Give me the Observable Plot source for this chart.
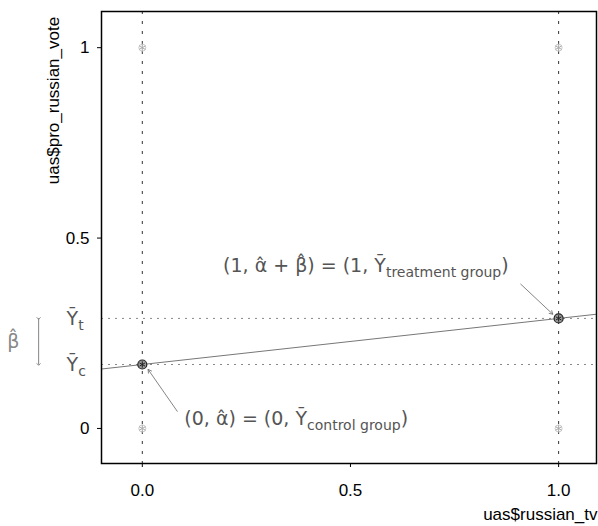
<!DOCTYPE html>
<html>
<head>
<meta charset="utf-8">
<script src="https://cdn.jsdelivr.net/npm/d3@7"></script>
<script src="https://cdn.jsdelivr.net/npm/@observablehq/plot@0.6"></script>
<style>
  html, body { margin: 0; padding: 0; background: white; }
</style>
</head>
<body>
<div id="chart"></div>
<script>
// ---- data ----
const xTicks = [0, 0.5, 1];
const yTicks = [0, 0.5, 1];
const xTickLabels = ["0.0", "0.5", "1.0"];
const yTickLabels = ["0", "0.5", "1"];

// raw observations (binary outcome, binary treatment)
const rawX = [0, 0, 1, 1];
const rawY = [0, 1, 0, 1];

// group means (control, treatment)
const groupX = [0, 1];
const groupMean = [0.168, 0.289];

// axis domains
const xDomain = [-0.098, 1.091];
const yDomain = [-0.092, 1.095];

// annotation texts and their anchors (data units)
const annoText = ["(1, α̂ + β̂) = (1, Ȳ_{treatment group})", "(0, α̂) = (0, Ȳ_{control group})"];
const annoX = [0.194, 0.101];
const annoY = [0.426, 0.024];
// arrows from annotation to point
const arrowX1 = [0.909, 0.084];
const arrowY1 = [0.379, 0.045];
const arrowX2 = [0.986, 0.014];
const arrowY2 = [0.300, 0.155];

// left-hand labels
const sideLabels = ["Ȳ_{t}", "Ȳ_{c}"];
const sideLabelX = -0.182;
const betaX = -0.31;
const braceX = -0.249;

const xLabel = "uas$russian_tv";
const yLabel = "uas$pro_russian_vote";

// ---- derived ----
const raw = rawX.map((x, i) => ({x, y: rawY[i]}));
const means = groupX.map((x, i) => ({x, y: groupMean[i]}));
const alpha = groupMean[0];
const beta = groupMean[1] - groupMean[0];
const fit = xDomain.map(x => ({x, y: alpha + beta * x}));
const annos = annoText.map((t, i) => ({t, x: annoX[i], y: annoY[i]}));
const arrows = arrowX1.map((x1, i) => ({x1, y1: arrowY1[i], x2: arrowX2[i], y2: arrowY2[i]}));
const sides = sideLabels.map((t, i) => ({t, x: sideLabelX, y: groupMean[1 - i]}));

const gray = "#666";
const annoFont = "'DejaVu Sans', 'Liberation Sans', sans-serif";

const plot = Plot.plot({
  width: 598,
  height: 526,
  marginLeft: 101,
  marginRight: 2,
  marginTop: 11,
  marginBottom: 63,
  style: {fontFamily: "'Liberation Sans', Arial, sans-serif", fontSize: "17px", color: "black", background: "white", overflow: "visible"},
  x: {domain: xDomain, label: null},
  y: {domain: yDomain, label: null},
  marks: [
    Plot.ruleX(groupX, {stroke: "#333", strokeDasharray: "3,7", strokeWidth: 1}),
    Plot.ruleY(groupMean, {stroke: "#888", strokeDasharray: "2,5", strokeWidth: 1}),
    Plot.line(fit, {x: "x", y: "y", stroke: "#777", strokeWidth: 1}),
    Plot.dot(raw, {x: "x", y: "y", r: 3.5, symbol: "asterisk", stroke: "#aaa", strokeWidth: 1}),
    Plot.dot(raw, {x: "x", y: "y", r: 3.5, stroke: "#bbb", strokeWidth: 0.8}),
    Plot.dot(means, {x: "x", y: "y", r: 4.5, fill: "#999", stroke: "#222", strokeWidth: 1.2}),
    Plot.dot(means, {x: "x", y: "y", r: 3, symbol: "asterisk", stroke: "#222", strokeWidth: 1}),
    Plot.arrow(arrows, {x1: "x1", y1: "y1", x2: "x2", y2: "y2", stroke: gray, strokeWidth: 0.8, headLength: 7}),
    Plot.link([0], {x1: braceX, x2: braceX, y1: groupMean[1], y2: groupMean[0], stroke: gray, strokeWidth: 0.8, markerStart: "arrow", markerEnd: "arrow"}),
    Plot.text(annos, {x: "x", y: "y", text: "t", textAnchor: "start", fontSize: 19, fill: "#555", fontFamily: annoFont}),
    Plot.text(sides, {x: "x", y: "y", text: "t", textAnchor: "start", fontSize: 19, fill: "#555", fontFamily: annoFont}),
    Plot.text(["β̂"], {x: betaX, y: (groupMean[0] + groupMean[1]) / 2, textAnchor: "middle", fontSize: 19, fill: "#888", fontFamily: annoFont}),
    Plot.axisX(xTicks, {tickFormat: (d, i) => xTickLabels[i], tickSize: 4, tickPadding: 16, fontSize: 17, label: null}),
    Plot.axisY(yTicks, {tickFormat: (d, i) => yTickLabels[i], tickSize: 4, tickPadding: 8, fontSize: 17, label: null}),
    Plot.text([xLabel], {frameAnchor: "bottom-right", dx: 1, dy: 56, textAnchor: "end", fontSize: 17}),
    Plot.text([yLabel], {frameAnchor: "top-left", rotate: -90, dx: -55, dy: 89, textAnchor: "middle", fontSize: 17}),
    Plot.frame({stroke: "black", strokeWidth: 1.5})
  ]
});

// render "_{...}" as subscript tspans
d3.select(plot).selectAll("text").each(function () {
  const t = this.textContent;
  const m = t.match(/^(.*)_\{(.*)\}(.*)$/);
  if (!m) return;
  const el = d3.select(this);
  el.text(null);
  el.append("tspan").text(m[1]);
  el.append("tspan").attr("dy", 5).attr("font-size", 14).text(m[2]);
  if (m[3]) el.append("tspan").attr("dy", -5).text(m[3]);
});

document.getElementById("chart").appendChild(plot);
</script>
</body>
</html>
